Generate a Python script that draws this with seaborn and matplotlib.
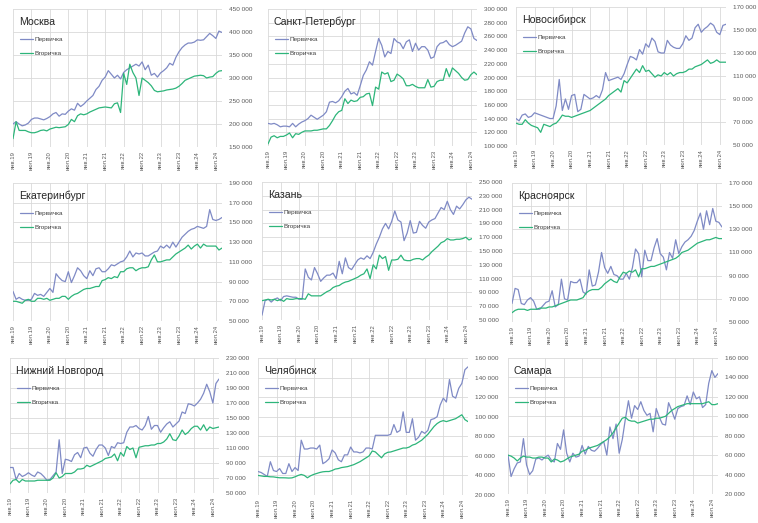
import matplotlib
matplotlib.use("Agg")
import matplotlib.pyplot as plt
import seaborn as sns
import pandas as pd
import numpy as np
from matplotlib import font_manager
from matplotlib.ticker import FuncFormatter

# ---------------- data (thousand roubles per m2) ----------------
cities = ["Москва", "Санкт-Петербург", "Новосибирск",
          "Екатеринбург", "Казань", "Красноярск",
          "Нижний Новгород", "Челябинск", "Самара"]
series_names = ["Первичка", "Вторичка"]
tick_labels = ["янв.19", "июл.19", "янв.20", "июл.20", "янв.21", "июл.21",
               "янв.22", "июл.22", "янв.23", "июл.23", "янв.24", "июл.24"]

moscow_primary = [200,205,200,196,198,202,210,213,213,211, 209,212,216,222,225,217,222,221,228,233,
                  230,245,238,243,250,256,262,275,282,295, 302,316,308,300,306,298,312,318,322,326,
                  330,326,335,318,328,306,310,302,311,316, 322,332,328,345,357,366,372,376,376,378,
                  383,382,383,390,397,392,386,402,399]
moscow_secondary = [168,205,186,186,186,183,181,181,183,186, 187,185,189,191,193,192,193,194,199,210,
                    205,218,222,220,222,226,229,232,235,236, 237,236,235,244,246,225,310,286,330,312,
                    300,262,300,295,290,283,273,270,271,272, 274,275,276,278,282,288,295,298,301,304,
                    305,306,305,300,302,303,310,315,316]
spb_primary = [133,132,133,131,128,129,129,128,133,128, 132,135,137,140,145,142,139,142,145,150,
               164,165,163,166,172,180,184,176,178,174, 188,203,211,223,218,238,257,247,230,238,
               235,257,252,250,242,252,255,238,250,240, 245,245,240,228,230,245,250,251,254,248,
               245,247,250,253,265,274,271,257,254]
spb_secondary = [103,113,115,112,114,114,116,119,112,118, 117,120,122,122,122,123,123,124,125,125,
                 130,137,145,150,152,169,162,167,165,166, 171,172,176,177,159,186,183,208,205,207,
                 194,196,205,202,198,188,188,190,187,185, 185,185,197,186,187,194,196,196,213,201,
                 214,210,206,200,196,197,204,208,204]
nsk_primary = [73,71,76,77,74,75,78,77,76,75, 74,73,73,84,107,80,90,81,93,94,
               79,81,94,92,90,91,93,91,98,113, 106,107,108,109,107,112,120,127,126,124,
               133,129,138,135,143,140,131,130,130,141, 137,135,134,134,138,145,141,143,152,155,
               148,151,153,156,154,148,146,154,155]
nsk_secondary = [69,68,68,72,69,67,66,65,61,68, 67,66,68,69,72,76,75,75,74,75,
                 76,77,78,79,80,82,84,86,88,90, 93,95,97,99,96,106,104,108,112,116,
                 113,119,114,115,112,109,111,110,113,111, 113,110,112,113,113,114,116,116,118,119,
                 120,122,124,121,122,124,122,122,122]
ekb_primary = [80,72,74,72,71,71,72,78,76,77, 75,79,83,79,98,94,91,90,100,89,
               96,104,101,96,93,101,96,103,104,100, 100,103,107,106,108,110,111,115,121,115,
               119,118,119,116,116,118,120,121,126,124, 127,124,130,125,130,135,138,141,143,144,
               146,145,144,146,163,153,152,153,155]
ekb_secondary = [70,70,69,68,71,72,70,70,73,73, 72,73,71,72,73,73,75,75,72,75,
                 77,78,80,82,83,83,84,85,85,91, 92,94,93,95,94,100,100,103,104,104,
                 101,103,104,104,105,112,117,110,110,111, 112,112,115,118,120,122,124,127,123,126,
                 128,124,128,126,126,126,126,122,124]
kazan_primary = [57,78,80,76,80,82,78,84,85,84, 83,83,80,80,124,112,108,126,117,106,
                 111,115,115,118,110,135,117,140,126,123, 130,137,140,138,143,139,148,160,170,182,
                 190,182,193,208,195,192,165,176,194,176, 177,193,187,183,192,195,197,205,213,210,
                 222,210,203,215,211,217,224,228,225]
kazan_secondary = [78,79,80,79,80,78,80,77,81,80, 80,81,81,81,80,88,85,85,85,85,
                   88,91,93,97,99,100,103,105,106,108, 110,112,115,117,124,110,130,124,144,139,
                   142,122,137,137,138,144,137,136,136,138, 139,139,137,141,144,149,153,157,162,164,
                   168,166,166,167,167,168,170,166,168]
krsk_primary = [66,79,78,66,65,69,71,68,61,61, 64,67,68,77,63,65,87,70,69,85,
                84,84,87,76,74,95,81,82,93,110, 97,92,98,91,90,87,87,92,87,97,
                113,109,89,112,103,103,114,122,109,106, 95,110,105,121,109,115,119,121,124,129,
                137,144,130,146,134,148,137,136,132]
krsk_secondary = [58,60,61,61,61,60,61,61,61,62, 62,62,63,63,64,65,66,67,68,69,
                  69,69,70,71,75,77,78,78,78,80, 83,85,87,85,84,89,93,92,94,93,
                  95,89,96,96,97,98,98,99,100,101, 102,103,104,105,107,110,111,112,114,116,
                  118,119,120,121,121,122,123,122,122]
nn_primary = [84,84,68,76,72,74,77,74,72,78, 76,72,67,68,73,78,121,76,95,94,
              92,101,104,97,110,111,103,99,108,114, 114,110,100,112,110,117,116,117,131,138,
              138,140,136,134,140,152,135,140,140,131, 137,142,145,138,142,146,158,156,169,168,
              166,170,175,183,195,185,170,196,202]
nn_secondary = [62,67,68,64,68,66,66,66,66,67, 67,67,67,67,70,77,70,72,76,76,
                76,78,82,82,83,87,85,87,89,91, 93,96,97,98,102,93,104,99,112,108,
                110,97,111,112,113,113,114,114,116,116, 118,122,129,121,120,126,134,128,131,136,
                139,139,134,141,133,138,136,137,138]
chel_primary = [44,43,41,39,54,45,44,47,42,42, 52,44,48,45,76,67,67,68,68,67,
                71,52,54,57,66,63,56,54,61,61, 69,64,64,63,64,68,68,67,81,81,
                81,81,81,82,92,84,86,105,84,84, 98,76,79,85,83,86,97,98,100,112,
                119,115,138,121,119,129,134,148,151]
chel_secondary = [40,39.5,39,39,38.6,38.5,38,37.6,37.6,37.5, 37.3,37.5,38.6,40,41,40,37.6,39.6,41,42,
                  43,43.7,44,44,45,46.5,47,48,48.5,49, 50,51,52.5,54,56,58,60,65,64,61,
                  58,62,63.6,64,65,66,67,68,68,69, 71,72,74,76,79,82,86,90,93,95,
                  96,95,96,97,98,100,102,97,95]
samara_primary = [60,38,46,52,53,77,50,40,44,56, 57,55,58,60,55,53,72,66,86,62,
                  53,62,58,59,70,61,69,65,64,67, 71,74,60,89,77,92,62,76,97,116,
                  98,111,107,115,106,101,103,84,108,99, 92,91,114,106,97,108,110,111,121,112,
                  125,118,120,109,112,134,147,140,144]
samara_secondary = [60,59,57,54,57,59,58,58,57,57, 58,58,57,57,53,56,55,53,54,56,
                    58,59,60,61,64,65,67,68,69,70, 72,74,76,79,83,88,93,98,99,96,
                    95,95,93,94,95,96,97,97,98,98, 99,100,103,106,108,110,111,112,113,113,
                    113,113,113,113,114,115,112,112,113]

primary = [moscow_primary, spb_primary, nsk_primary, ekb_primary, kazan_primary,
           krsk_primary, nn_primary, chel_primary, samara_primary]
secondary = [moscow_secondary, spb_secondary, nsk_secondary, ekb_secondary, kazan_secondary,
             krsk_secondary, nn_secondary, chel_secondary, samara_secondary]
# y-axis ranges (min, max, step) in roubles
y_ranges = [(150000, 450000, 50000), (100000, 300000, 20000), (50000, 170000, 20000),
            (50000, 190000, 20000), (50000, 250000, 20000), (50000, 170000, 20000),
            (50000, 230000, 20000), (20000, 160000, 20000), (20000, 160000, 20000)]

# ---------------- layout (pixel rectangles: left, top, right, bottom) ----------------
W, H = 758, 523
rects = [(13, 9, 222, 147), (268, 9, 477, 146), (516, 7, 726, 145),
         (13, 183, 222, 321), (262, 182, 472, 320), (512, 183, 722, 322),
         (10, 358, 219, 493), (258, 358, 468, 495), (508, 358, 718, 494)]
palette = {"Первичка": "#7F8AC5", "Вторичка": "#2DB57A"}

sns.set_theme(style="white")
avail = {f.name for f in font_manager.fontManager.ttflist}
main_font = "Liberation Sans Narrow" if "Liberation Sans Narrow" in avail else "Liberation Sans"
plt.rcParams["font.family"] = [main_font, "DejaVu Sans"]

fig = plt.figure(figsize=(W / 100, H / 100), dpi=100)
fig.patch.set_facecolor("white")

fmt = FuncFormatter(lambda v, p: f"{int(round(v)):,}".replace(",", " "))

for i, city in enumerate(cities):
    l, t, r, b = rects[i]
    wpx, hpx = r - l, b - t
    ax = fig.add_axes([l / W, 1 - b / H, wpx / W, hpx / H])
    n = len(primary[i])
    df = pd.DataFrame({
        "month": np.concatenate([np.arange(n), np.arange(n)]),
        "value": np.concatenate([np.array(primary[i]) * 1000, np.array(secondary[i]) * 1000]),
        "series": [series_names[0]] * n + [series_names[1]] * n,
    })
    sns.lineplot(data=df, x="month", y="value", hue="series", palette=palette,
                 hue_order=series_names, linewidth=0.9, ax=ax)
    ymin, ymax, step = y_ranges[i]
    ax.set_xlim(0, n - 1)
    ax.set_ylim(ymin, ymax)
    ax.set_yticks(np.arange(ymin, ymax + 1, step))
    ax.yaxis.set_major_formatter(fmt)
    ax.yaxis.tick_right()
    ax.set_xticks(np.arange(0, 6 * len(tick_labels), 6))
    ax.set_xticklabels(tick_labels)
    ax.tick_params(axis="y", length=0, pad=5, labelsize=4.6, colors="#595959")
    ax.tick_params(axis="x", length=0, pad=3, labelsize=4.2, colors="#595959", rotation=90)
    ax.grid(True, color="#D9D9D9", linewidth=0.6)
    ax.set_axisbelow(True)
    for s in ax.spines.values():
        s.set_visible(False)
    ax.set_xlabel("")
    ax.set_ylabel("")
    ax.text(6 / wpx, 1 - 13 / hpx, city, transform=ax.transAxes, fontsize=7.6,
            ha="left", va="center", color="#262626")
    handles, labels = ax.get_legend_handles_labels()
    ax.legend(handles, labels, loc="upper left", bbox_to_anchor=(7 / wpx, 1 - 28 / hpx),
              frameon=False, fontsize=4.6, handlelength=2.1, handletextpad=0.15,
              labelspacing=1.25, borderpad=0, borderaxespad=0, labelcolor="#404040")

fig.savefig("out.png", dpi=100, facecolor="white")
